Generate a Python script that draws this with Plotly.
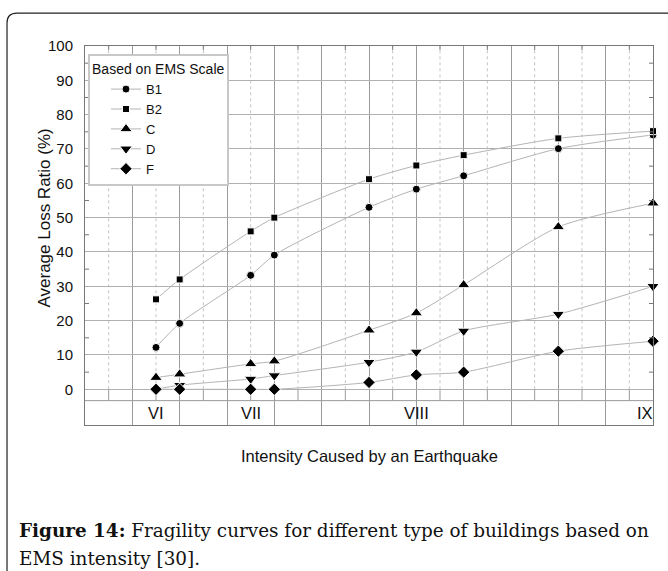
import plotly.graph_objects as go

# ---- data ----
x_pos = [1.5, 2, 3.5, 4, 6, 7, 8, 10, 12]          # positions on the intensity axis
b1 = [12.2, 19.2, 33.2, 39.1, 53.0, 58.3, 62.2, 70.1, 74.1]
b2 = [26.2, 32.0, 46.0, 50.0, 61.2, 65.2, 68.2, 73.1, 75.2]
c_ = [3.4, 4.4, 7.4, 8.2, 17.2, 22.2, 30.4, 47.3, 54.2]
d_ = [0.0, 1.2, 3.0, 4.0, 7.9, 10.9, 17.0, 21.9, 30.0]
f_ = [0.0, 0.0, 0.0, 0.0, 2.0, 4.2, 5.0, 11.1, 14.0]
series_names = ["B1", "B2", "C", "D", "F"]
series_symbols = ["circle", "square", "triangle-up", "triangle-down", "diamond"]
series_sizes = [8, 7, 11, 11, 9.5]
x_tick_labels = ["VI", "VII", "VIII", "IX"]
x_tick_pos = [1.5, 3.5, 7, 11.84]
y_ticks = list(range(0, 101, 10))

XMIN, XMAX = 0, 12
YMIN, YMAX = -10.4, 100
BAND = -3.3

fig = go.Figure()
for name, sym, sz, vals in zip(series_names, series_symbols, series_sizes, [b1, b2, c_, d_, f_]):
    fig.add_trace(go.Scatter(
        x=x_pos, y=vals, name=name, mode="lines+markers",
        line=dict(color="#b4b4b4", width=1, shape="spline", smoothing=0.7),
        marker=dict(symbol=sym, size=sz, color="black", line=dict(color="white", width=1)),
        cliponaxis=False,
    ))

shapes = []
grid_major = "#9a9a9a"
k = XMIN + 0.5
while k < XMAX:
    shapes.append(dict(type="line", xref="x", yref="y", x0=k, x1=k, y0=0, y1=YMAX,
                       line=dict(color="#c4c4c4", width=1, dash="dot"), layer="below"))
    shapes.append(dict(type="line", xref="x", yref="y", x0=k, x1=k, y0=BAND, y1=0,
                       line=dict(color=grid_major, width=1), layer="below"))
    shapes.append(dict(type="line", xref="x", yref="paper", ysizemode="pixel", yanchor=1,
                       x0=k, x1=k, y0=0, y1=-4, line=dict(color="#777", width=1)))
    k += 1
shapes.append(dict(type="line", xref="paper", yref="y", x0=0, x1=1, y0=BAND, y1=BAND,
                   line=dict(color=grid_major, width=1), layer="below"))
for v in range(5, 100, 10):
    shapes.append(dict(type="line", xref="paper", yref="y", xsizemode="pixel", xanchor=0,
                       x0=0, x1=4, y0=v, y1=v, line=dict(color="#777", width=1)))
    shapes.append(dict(type="line", xref="paper", yref="y", xsizemode="pixel", xanchor=1,
                       x0=0, x1=-4, y0=v, y1=v, line=dict(color="#777", width=1)))

# outer rounded frame
fx, ft = -0.1373, 1.087
dx, dy = 10 / 568, 10 / 379
shapes.append(dict(type="path", xref="paper", yref="paper",
                   path=f"M {fx},-0.6 L {fx},{ft-dy} Q {fx},{ft} {fx+dx},{ft} L 1.2,{ft}",
                   line=dict(color="#222", width=1.2)))

annotations = []
for lab, pos in zip(x_tick_labels, x_tick_pos):
    annotations.append(dict(x=pos, y=(BAND + YMIN) / 2, xref="x", yref="y", text=lab,
                            showarrow=False, font=dict(size=16.5, color="#111")))
annotations.append(dict(x=0.5, y=(425 - 467) / 379, xref="paper", yref="paper",
                        text="Intensity Caused by an Earthquake", showarrow=False,
                        font=dict(size=16.5, color="#111")))
annotations.append(dict(x=(33 - 85) / 568, y=(425 - 218) / 379, xref="paper", yref="paper",
                        text="Average Loss Ratio (%)", textangle=-90, showarrow=False,
                        font=dict(size=17, color="#111")))
annotations.append(dict(x=(17 - 85) / 568, y=(425 - 530) / 379, xref="paper", yref="paper",
                        xanchor="left", yanchor="middle",
                        text="<b>Figure 14:</b> Fragility curves for different type of buildings based on",
                        showarrow=False, font=dict(family="DejaVu Serif", size=18.4, color="#111")))
annotations.append(dict(x=(17 - 85) / 568, y=(425 - 558) / 379, xref="paper", yref="paper",
                        xanchor="left", yanchor="middle",
                        text="EMS intensity [30].",
                        showarrow=False, font=dict(family="DejaVu Serif", size=18.4, color="#111")))

fig.update_layout(
    width=668, height=571,
    margin=dict(l=85, r=15, t=46, b=146),
    paper_bgcolor="white", plot_bgcolor="white",
    font=dict(family="Liberation Sans, Arial, sans-serif", size=14, color="#111"),
    showlegend=True,
    legend=dict(
        x=0.0053, y=0.979, xanchor="left", yanchor="top",
        bgcolor="white", bordercolor="#c8c8c8", borderwidth=2,
        title=dict(text="Based on EMS Scale", font=dict(size=14)),
        font=dict(size=13), tracegroupgap=0, indentation=16,
    ),
    xaxis=dict(range=[XMIN, XMAX], tickvals=list(range(XMIN, XMAX + 1)), showticklabels=False,
               showgrid=True, gridcolor=grid_major, gridwidth=1, zeroline=False,
               showline=True, linecolor="#777", linewidth=1, mirror=True, ticks=""),
    yaxis=dict(range=[YMIN, YMAX], tickvals=y_ticks, showgrid=True, gridcolor="#b0b0b0",
               gridwidth=1, zeroline=False, showline=True, linecolor="#777", linewidth=1,
               mirror=True, ticks="", ticklabelstandoff=8, tickfont=dict(size=15)),
    shapes=shapes, annotations=annotations,
)

fig.write_html("out.html", config={"displayModeBar": False},
               post_script="document.body.style.margin='0';")
